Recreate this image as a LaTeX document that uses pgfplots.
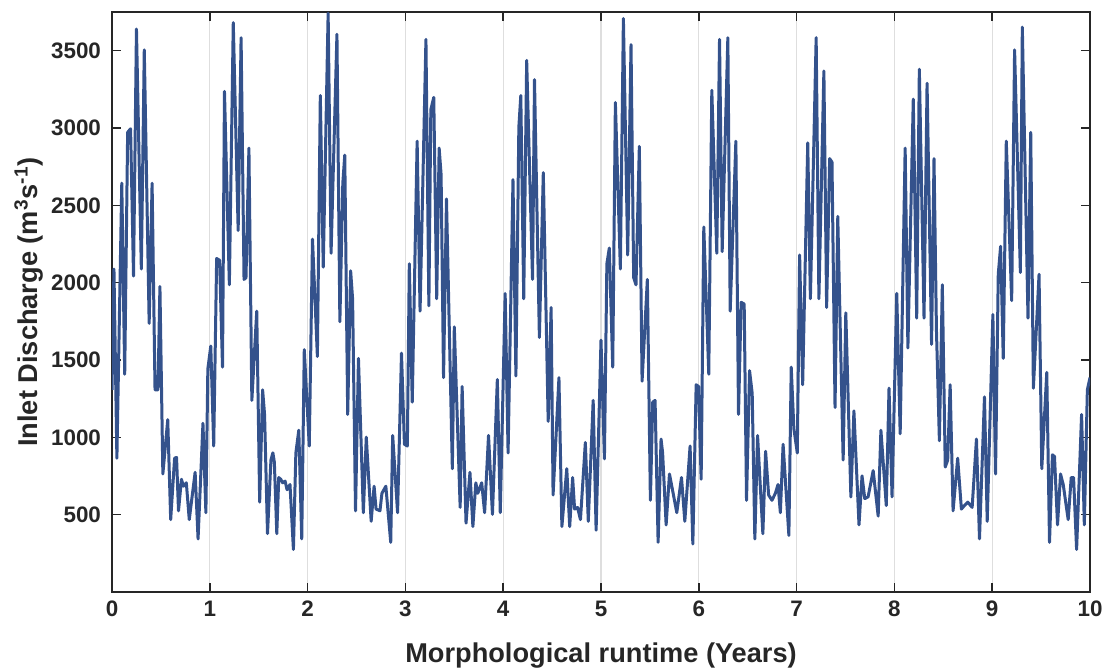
\documentclass[border=0pt]{standalone}
\usepackage{fontspec}
\setmainfont{Liberation Sans}
\usepackage{pgfplots}
\pgfplotsset{compat=1.18}
\definecolor{linecol}{RGB}{52,82,140}
\definecolor{axcol}{RGB}{38,38,38}
\definecolor{gridcol}{RGB}{222,222,222}
\begin{document}
\begin{tikzpicture}
\begin{axis}[
  width=489pt, height=290pt, scale only axis,
  xmin=0, xmax=10, ymin=0, ymax=3750,
  xtick={0,1,...,10}, ytick={500,1000,...,3500},
  tick align=inside, major tick length=4.5pt,
  xtick pos=both, ytick pos=both,
  xticklabel pos=left, yticklabel pos=left,
  xmajorgrids, major grid style={color=gridcol, line width=0.6pt},
  axis line style={color=axcol, line width=0.8pt},
  tick style={color=axcol, line width=0.8pt},
  /pgf/number format/assume math mode=true,
  /pgf/number format/1000 sep={},
  ticklabel style={font=\fontsize{11.2}{13}\selectfont\bfseries, text=axcol},
  yticklabel style={xshift=-2pt},
  xticklabel style={yshift=-1pt},
  xlabel={Morphological runtime (Years)},
  ylabel={Inlet Discharge (m\textsuperscript{3}s\textsuperscript{-1})},
  label style={font=\fontsize{13.6}{16}\selectfont\bfseries, text=axcol},
  xlabel style={at={(axis description cs:0.5,0)}, anchor=base, yshift=-35.5pt},
  ylabel style={at={(axis description cs:0,0.5)}, rotate=0, anchor=base, yshift=37pt},
]
\addplot[color=linecol, line width=1.5pt, line join=round, mark=none] coordinates {
(0.00,1307) (0.02,2088) (0.05,865) (0.10,2643) (0.13,1408) (0.16,2972) (0.19,2995)
(0.22,2043) (0.25,3640) (0.30,2088) (0.33,3505) (0.38,1737) (0.41,2643) (0.44,1307)
(0.47,1307) (0.49,1975) (0.52,763) (0.57,1114) (0.60,468) (0.64,865) (0.66,870)
(0.68,525) (0.71,729) (0.73,684) (0.76,706) (0.79,468) (0.85,774) (0.88,343)
(0.93,1091) (0.96,513) (0.98,1442) (1.01,1590) (1.04,944) (1.07,2156) (1.10,2145)
(1.13,1454) (1.15,3237) (1.20,1986) (1.24,3681) (1.29,2337) (1.32,3584) (1.35,2021)
(1.37,2032) (1.40,2870) (1.43,1239) (1.48,1816) (1.51,581) (1.54,1307) (1.56,1148)
(1.59,377) (1.625,853) (1.645,900) (1.66,840) (1.685,377) (1.705,740) (1.725,729)
(1.745,706) (1.77,717) (1.79,661) (1.82,695) (1.855,275) (1.88,899) (1.91,1046)
(1.94,343) (1.966,1567) (2.017,944) (2.05,2281) (2.10,1522) (2.13,3210) (2.16,2100)
(2.21,3742) (2.24,2190) (2.30,3606) (2.33,1748) (2.36,2643) (2.38,2825) (2.41,1148)
(2.44,2077) (2.46,1896) (2.49,525) (2.52,1510) (2.57,513) (2.60,1001) (2.65,457)
(2.68,684) (2.70,536) (2.74,525) (2.76,638) (2.80,684) (2.85,321) (2.87,1012)
(2.92,513) (2.96,1544) (2.99,955) (3.02,944) (3.04,2122) (3.07,1227) (3.12,2915)
(3.15,1816) (3.21,3573) (3.24,1850) (3.26,3119) (3.29,3198) (3.32,1896) (3.345,2870)
(3.365,2700) (3.39,1386) (3.42,2541) (3.48,797) (3.50,1714) (3.56,547) (3.58,1329)
(3.62,445) (3.66,774) (3.69,423) (3.72,706) (3.74,638) (3.78,706) (3.81,513)
(3.85,1012) (3.89,502) (3.94,1374) (3.97,513) (4.02,1930) (4.05,899) (4.10,2666)
(4.13,1397) (4.16,3006) (4.18,3210) (4.21,1896) (4.24,3437) (4.30,2021) (4.32,3312)
(4.37,1646) (4.41,2711) (4.46,1103) (4.49,1839) (4.51,627) (4.57,1386) (4.60,423)
(4.65,797) (4.68,423) (4.71,740) (4.73,536) (4.76,547) (4.79,468) (4.84,967)
(4.87,457) (4.92,1239) (4.95,400) (5.00,1628) (5.035,861) (5.06,2122) (5.085,2224)
(5.12,1454) (5.147,3165) (5.198,2088) (5.229,3708) (5.273,2179) (5.307,3539)
(5.334,2032) (5.358,1986) (5.392,2881) (5.420,1363) (5.447,1692) (5.474,2021)
(5.505,593) (5.529,1227) (5.553,1239) (5.584,321) (5.614,989) (5.63,900) (5.666,434)
(5.70,763) (5.741,627) (5.775,513) (5.823,740) (5.857,457) (5.911,944) (5.939,310)
(5.973,1340) (5.997,1329) (6.024,729) (6.051,2360) (6.102,1408) (6.133,3244)
(6.184,2190) (6.212,3573) (6.239,2201) (6.297,3584) (6.321,1816) (6.379,2915)
(6.406,1148) (6.433,1873) (6.464,1862) (6.488,593) (6.519,1431) (6.546,1284)
(6.573,343) (6.601,1012) (6.655,377) (6.683,910) (6.714,627) (6.748,593) (6.783,638)
(6.81,695) (6.834,513) (6.862,955) (6.921,366) (6.945,1454) (6.972,1057) (7.007,899)
(7.031,2179) (7.062,1340) (7.114,2904) (7.141,1896) (7.20,3584) (7.228,1896)
(7.279,3369) (7.307,1839) (7.338,2802) (7.362,2779) (7.393,1193) (7.421,2428)
(7.476,853) (7.503,1805) (7.555,615) (7.586,1171) (7.638,434) (7.669,751) (7.697,604)
(7.731,615) (7.783,785) (7.834,491) (7.862,1046) (7.917,559) (7.945,1318) (7.976,615)
(8.024,1930) (8.059,1023) (8.11,2870) (8.138,1578) (8.193,3187) (8.228,1771)
(8.255,3380) (8.303,1771) (8.334,3289) (8.38,1601) (8.405,2802) (8.43,1692)
(8.46,978) (8.49,1986) (8.52,808) (8.545,853) (8.57,1340) (8.60,525) (8.647,865)
(8.685,536) (8.716,559) (8.75,581) (8.795,547) (8.839,989) (8.870,343) (8.921,1261)
(8.949,457) (9.007,1794) (9.034,763) (9.062,2054) (9.086,2235) (9.113,1510)
(9.144,2915) (9.199,1884) (9.229,3505) (9.288,2066) (9.308,3652) (9.366,1771)
(9.394,2972) (9.421,1318) (9.479,2054) (9.507,797) (9.558,1420) (9.586,321)
(9.616,887) (9.637,876) (9.668,434) (9.699,763) (9.726,695) (9.777,468) (9.808,740)
(9.832,740) (9.863,275) (9.914,1148) (9.942,434) (9.973,1307) (10.0,1386)
};
\end{axis}
\pgfresetboundingbox
\path[use as bounding box] (-56pt,-38.5pt) rectangle (496.5pt,296pt);
\end{tikzpicture}
\end{document}
